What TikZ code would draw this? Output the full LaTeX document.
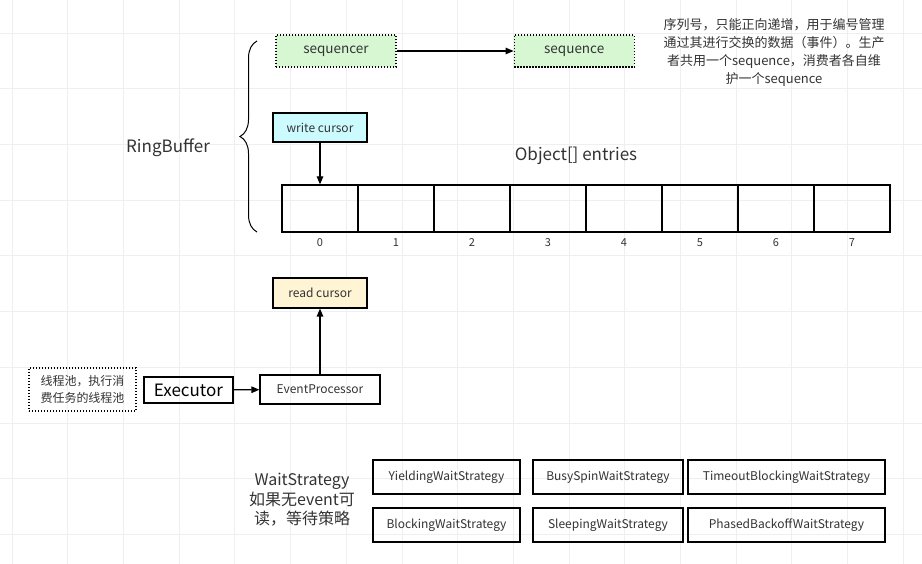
\documentclass[tikz,border=0pt]{standalone}
\usepackage{fontspec}
\setmainfont{Noto Sans CJK SC}
\usetikzlibrary{positioning}
\usetikzlibrary{arrows.meta}
\usetikzlibrary{decorations.pathreplacing}
\definecolor{seqgreen}{HTML}{D6F7D2}
\definecolor{writecyan}{HTML}{CCFBFF}
\definecolor{readyellow}{HTML}{FFF4D4}
\definecolor{gridgray}{HTML}{EFEFEF}
\definecolor{textgray}{HTML}{333333}

\begin{document}
\begin{tikzpicture}[x=1pt, y=-1pt,
		box/.style={draw, line width=1.2pt, inner sep=0pt, align=center, text=textgray, font=\fontsize{12}{14}\selectfont},
		seqbox/.style={box, fill=seqgreen, dash pattern=on 1.4pt off 1.6pt, minimum width=120pt, minimum height=32pt, font=\fontsize{13.5}{16}\selectfont},
		cell/.style={draw, line width=1.2pt, minimum width=76pt, minimum height=47pt, inner sep=0pt},
		waitbox/.style={box, minimum height=34pt},
		label/.style={align=center, inner sep=0pt, text=textgray},
		gridline/.style={draw=gridgray, line width=0.8pt},
		arrow/.style={->, >={Triangle[length=8pt,width=6.5pt]}, line width=1.2pt}
		]
		\useasboundingbox[fill=white] (0,0) rectangle (922,564);
		% Grid
		\foreach \gx in {0,...,16}
			\draw[gridline] ({12+55.7*\gx},0) -- ({12+55.7*\gx},564);
		\foreach \gy in {0,...,9}
			\draw[gridline] (0,{33+55.7*\gy}) -- (922,{33+55.7*\gy});
		
		% RingBuffer
		\node[label, font=\fontsize{17}{20}\selectfont] (ringbuffer) at (168,148) {RingBuffer};
		\coordinate (brace_bottom) at (257,232);
		\coordinate (brace_top) at (257,41);
		\draw[decorate, decoration={brace, amplitude=17pt}, line width=1pt] (brace_bottom) -- (brace_top);
		
		\node[seqbox] (sequencer) at (336,51) {sequencer};
		\node[seqbox, right=117pt of sequencer] (sequence) {sequence};
		\node[label, font=\fontsize{13}{18}\selectfont] (seq_note) at (774,52) {序列号，只能正向递增，用于编号管理\\通过其进行交换的数据（事件）。生产\\者共用一个sequence，消费者各自维\\护一个sequence};
		
		\node[box, fill=writecyan, minimum width=94pt, minimum height=29pt] (write_cursor) at (320,127.5) {write cursor};
		\node[label, font=\fontsize{17}{20}\selectfont] (entries) at (576,156) {Object[] entries};
		
		% Entries
		\foreach \i in {0,...,7} {
			\node[cell] (cell\i) at ({320+76*\i},208.5) {};
			\node[label, font=\fontsize{11}{13}\selectfont] (index\i) at ({320+76*\i},243) {\i};
		}
		
		% Consumer
		\node[box, fill=readyellow, minimum width=94pt, minimum height=30pt] (read_cursor) at (320,293) {read cursor};
		\node[box, minimum width=120pt, minimum height=29pt] (processor) at (320,389.5) {EventProcessor};
		\node[box, minimum width=89pt, minimum height=26pt, text=black, font=\fontsize{17}{20}\selectfont] (executor) at (188.5,390) {Executor};
		\node[box, dash pattern=on 1.4pt off 1.6pt, minimum width=107pt, minimum height=43pt, font=\fontsize{12}{17}\selectfont] (pool) at (82.5,389.5) {线程池，执行消\\费任务的线程池};
		
		% WaitStrategy
		\node[label, font=\fontsize{16}{19.5}\selectfont] (wait) at (302,500) {WaitStrategy\\如果无event可\\读，等待策略};
		\node[waitbox, minimum width=147pt] (yielding) at (446.5,477) {YieldingWaitStrategy};
		\node[waitbox, minimum width=150pt] (busyspin) at (608,477) {BusySpinWaitStrategy};
		\node[waitbox, minimum width=197pt] (timeout) at (786.5,477) {TimeoutBlockingWaitStrategy};
		\node[waitbox, minimum width=147pt] (blocking) at (446.5,525) {BlockingWaitStrategy};
		\node[waitbox, minimum width=150pt] (sleeping) at (608,525) {SleepingWaitStrategy};
		\node[waitbox, minimum width=197pt] (phased) at (786.5,525) {PhasedBackoffWaitStrategy};
		
		% Arrows
		\draw[arrow] (sequencer) -- (sequence);
		\draw[arrow] (write_cursor) -- (cell0.north);
		\draw[arrow] (processor) -- (read_cursor);
		\draw[arrow] (executor) -- (processor);
	\end{tikzpicture}
\end{document}
